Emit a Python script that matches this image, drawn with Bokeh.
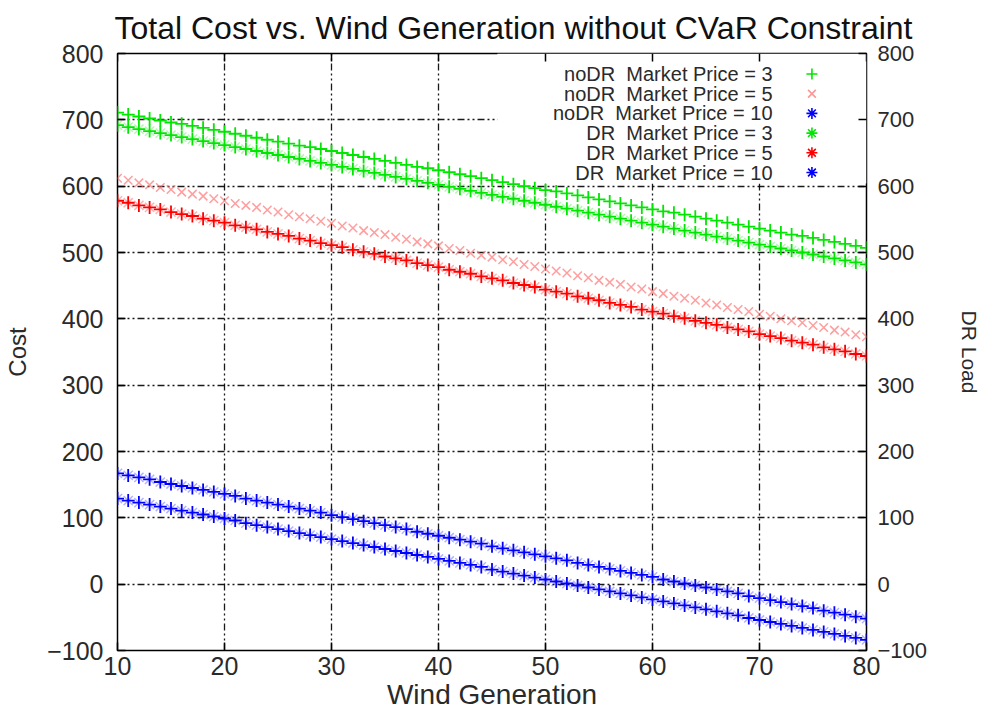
from bokeh.plotting import figure
from bokeh.models import LinearAxis, Range1d, BoxAnnotation, FixedTicker, Label
from bokeh.embed import file_html
from bokeh.resources import INLINE

# Wind generation levels (one scenario per unit)
wind = list(range(10, 81))

# Total cost, no demand response
nodr_price3 = [711, 708, 705, 702, 699, 696, 694, 691, 688, 685, 682, 679, 676, 673, 670, 667,
               664, 661, 659, 656, 653, 650, 647, 644, 641, 638, 635, 632, 629, 627, 624, 621,
               618, 615, 612, 609, 606, 603, 600, 597, 594, 592, 589, 586, 583, 580, 577, 574,
               571, 568, 565, 562, 560, 557, 554, 551, 548, 545, 542, 539, 536, 533, 530, 527,
               525, 522, 519, 516, 513, 510, 507]
nodr_price5 = [612, 609, 605, 602, 598, 595, 591, 588, 585, 581, 578, 574, 571, 568, 564, 561,
               557, 554, 551, 547, 544, 540, 537, 533, 530, 527, 523, 520, 516, 513, 510, 506,
               503, 499, 496, 493, 489, 486, 482, 479, 475, 472, 469, 465, 462, 458, 455, 452,
               448, 445, 441, 438, 434, 431, 428, 424, 421, 417, 414, 411, 407, 404, 400, 397,
               394, 390, 387, 383, 380, 376, 373]
nodr_price10 = [167, 164, 161, 158, 154, 151, 148, 145, 142, 139, 136, 133, 129, 126, 123, 120,
                117, 114, 111, 108, 104, 101, 98, 95, 92, 89, 86, 83, 79, 76, 73, 70,
                67, 64, 61, 57, 54, 51, 48, 45, 42, 39, 36, 32, 29, 26, 23, 20,
                17, 14, 11, 7, 4, 1, -2, -5, -8, -11, -14, -18, -21, -24, -27, -30,
                -33, -36, -40, -43, -46, -49, -52]

# Total cost, with demand response
dr_price3 = [692, 689, 686, 683, 680, 677, 674, 671, 668, 665, 662, 659, 656, 653, 650, 647,
             644, 641, 638, 635, 632, 629, 626, 623, 620, 617, 614, 611, 608, 605, 602, 599,
             596, 593, 590, 587, 584, 581, 578, 575, 572, 569, 566, 563, 560, 557, 554, 551,
             548, 545, 542, 539, 536, 533, 530, 527, 524, 521, 518, 515, 512, 509, 506, 503,
             500, 497, 494, 491, 488, 485, 482]
dr_price5 = [578, 575, 571, 568, 565, 561, 558, 555, 551, 548, 545, 541, 538, 535, 531, 528,
             525, 521, 518, 514, 511, 508, 504, 501, 498, 494, 491, 488, 484, 481, 478, 474,
             471, 468, 464, 461, 458, 454, 451, 448, 444, 441, 438, 434, 431, 428, 424, 421,
             418, 414, 411, 408, 404, 401, 397, 394, 391, 387, 384, 381, 377, 374, 371, 367,
             364, 361, 357, 354, 351, 347, 344]
dr_price10 = [129, 126, 123, 120, 117, 114, 111, 108, 105, 102, 99, 96, 92, 89, 86, 83,
              80, 77, 74, 71, 68, 65, 62, 59, 56, 53, 50, 47, 44, 41, 38, 35,
              32, 29, 26, 22, 19, 16, 13, 10, 7, 4, 1, -2, -5, -8, -11, -14,
              -17, -20, -23, -26, -29, -32, -35, -38, -41, -44, -47, -51, -54, -57, -60, -63,
              -66, -69, -72, -75, -78, -81, -84]

x_ticks = [10, 20, 30, 40, 50, 60, 70, 80]
y_ticks = [-100, 0, 100, 200, 300, 400, 500, 600, 700, 800]

chart_title = "Total Cost vs. Wind Generation without CVaR Constraint"

# the second gap is a no-break space so the double spacing survives in SVG
series_labels = ["noDR\u00a0 Market Price = 3", "noDR\u00a0 Market Price = 5",
                 "noDR\u00a0 Market Price = 10", "DR\u00a0 Market Price = 3",
                 "DR\u00a0 Market Price = 5", "DR\u00a0 Market Price = 10"]

FONT = "Liberation Sans"
GREEN = "#00e600"
RED = "#ff0000"
PINK = "#ff6a6a"
BLUE = "#0000ff"
TXT = "#2a2a2a"

X_MIN, X_MAX, Y_MIN, Y_MAX = 10, 80, -100, 800
FRAME_H = 597

p = figure(width=984, height=715, output_backend="svg", toolbar_location=None,
           x_range=Range1d(X_MIN, X_MAX), y_range=Range1d(Y_MIN, Y_MAX),
           min_border_left=117, min_border_right=118, min_border_top=53,
           min_border_bottom=65, background_fill_color="white",
           border_fill_color="white")

p.title.text = chart_title
p.title.text_font = FONT
p.title.text_font_size = "32px"
p.title.text_font_style = "normal"
p.title.text_color = "#111111"
p.title.align = "left"
p.title.offset = -3
p.title.standoff = 15

p.outline_line_color = "black"
p.outline_line_width = 1.5
p.outline_line_alpha = 1.0

# grid: dash-dot-dot pattern
for g, tk in ((p.xgrid, x_ticks), (p.ygrid, y_ticks)):
    g.ticker = FixedTicker(ticks=tk)
    g.grid_line_color = "black"
    g.grid_line_width = 1.3
    g.grid_line_dash = "7 3 2 3 2 3"
    g.grid_line_alpha = 0.9


def style_axis(ax, ticks, font_size):
    ax.ticker = FixedTicker(ticks=ticks)
    ax.axis_line_color = None
    ax.major_tick_in = 8
    ax.major_tick_out = 0
    ax.major_tick_line_color = "black"
    ax.major_tick_line_width = 1.5
    ax.minor_tick_line_color = None
    ax.major_label_text_font = FONT
    ax.major_label_text_font_size = font_size
    ax.major_label_text_color = TXT
    ax.axis_label_text_font = FONT
    ax.axis_label_text_font_style = "normal"
    ax.axis_label_text_color = TXT


style_axis(p.xaxis[0], x_ticks, "25px")
p.xaxis.axis_label = "Wind Generation"
p.xaxis.axis_label_text_font_size = "28px"
p.xaxis.major_label_standoff = 6
p.xaxis.axis_label_standoff = 1

style_axis(p.yaxis[0], y_ticks, "25px")
p.yaxis.axis_label = "Cost"
p.yaxis.axis_label_text_font_size = "24px"
p.yaxis.major_label_standoff = 14
p.yaxis.axis_label_standoff = 13

right_axis = LinearAxis(axis_label="DR Load")
style_axis(right_axis, y_ticks, "22px")
right_axis.axis_label_text_font_size = "21px"
right_axis.major_label_standoff = 11
right_axis.axis_label_standoff = 28
p.add_layout(right_axis, "right")

# mirrored tick marks along the top edge of the frame
p.segment(x0=x_ticks, x1=x_ticks, y0=[Y_MAX] * len(x_ticks),
          y1=[Y_MAX - 12] * len(x_ticks), line_color="black", line_width=1.5)

# opaque area behind the key
p.add_layout(BoxAnnotation(left=45.5, right=X_MAX, bottom=604, top=Y_MAX,
                           fill_color="white", fill_alpha=1.0, line_alpha=0,
                           level="underlay"))

p.scatter(wind, nodr_price3, marker="cross", size=13, line_color=GREEN, line_width=1.8)
p.scatter(wind, nodr_price5, marker="x", size=12, line_color=PINK, line_width=1.5,
          line_alpha=0.65)


def star(ys, color):
    # gnuplot-style asterisk: faint diagonal arms under a solid cross
    p.scatter(wind, ys, marker="x", size=13, line_color=color, line_width=1.5,
              line_alpha=0.3)
    p.scatter(wind, ys, marker="cross", size=13, line_color=color, line_width=1.8)


star(nodr_price10, BLUE)
star(dr_price3, GREEN)
star(dr_price5, RED)
star(dr_price10, BLUE)

# key: right-aligned labels with the sample symbol to their right
key_styles = [("cross", GREEN, 1.0), ("x", PINK, 0.7), ("asterisk", BLUE, 1.0),
              ("asterisk", GREEN, 1.0), ("asterisk", RED, 1.0), ("asterisk", BLUE, 1.0)]
key_text_x = 655       # px from the frame's left edge
key_top = 576.5        # px from the frame's bottom edge
key_step = 19.7        # px between rows
key_symbol_x = 74.9    # x position of the sample symbols
px_per_unit = FRAME_H / (Y_MAX - Y_MIN)
for i, (label, (marker, color, alpha)) in enumerate(zip(series_labels, key_styles)):
    sy = key_top - i * key_step
    p.add_layout(Label(x=key_text_x, y=sy, x_units="screen", y_units="screen",
                       text=label, text_align="right", text_baseline="middle",
                       text_font=FONT, text_font_size="20px", text_color=TXT))
    p.scatter([key_symbol_x], [Y_MIN + sy / px_per_unit], marker=marker, size=11,
              line_color=color, line_width=1.6, line_alpha=alpha)

open("out.html", "w").write(file_html(p, INLINE))
